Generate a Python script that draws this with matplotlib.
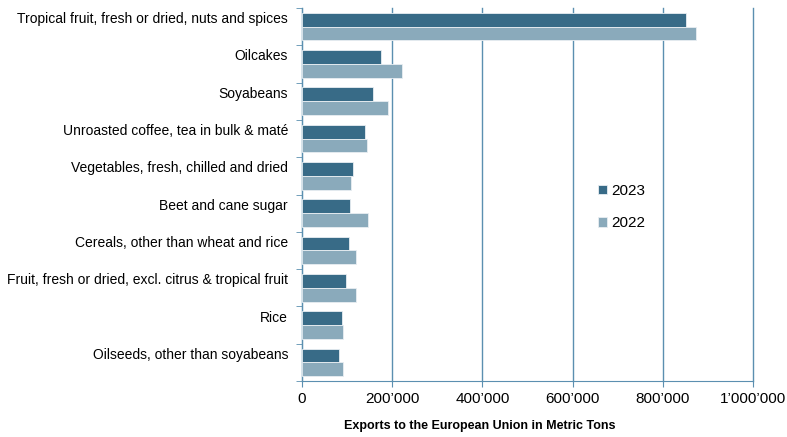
import numpy as np
import matplotlib.pyplot as plt
import matplotlib.transforms as mtransforms
from matplotlib.ticker import FuncFormatter

plt.rcParams['font.family'] = ['Liberation Sans', 'DejaVu Sans']

categories = ['Tropical fruit, fresh or dried, nuts and spices',
              'Oilcakes',
              'Soyabeans',
              'Unroasted coffee, tea in bulk & maté',
              'Vegetables, fresh, chilled and dried',
              'Beet and cane sugar',
              'Cereals, other than wheat and rice',
              'Fruit, fresh or dried, excl. citrus & tropical fruit',
              'Rice',
              'Oilseeds, other than soyabeans']
values_2023 = [851000, 175000, 158000, 139000, 112000, 106000, 104000, 98000, 89000, 83000]
values_2022 = [874000, 222000, 191000, 144000, 109000, 146000, 120000, 119000, 92000, 92000]

c2023 = '#386b87'
c2022 = '#8aaabb'
grid_c = '#5b8fb0'

fig = plt.figure(figsize=(7.87, 4.37), dpi=100)
ax = fig.add_axes([302/787, 1 - 381/437, 451/787, 373/437])

y = np.arange(len(categories))
h = 0.37
ax.barh(y - h/2, values_2023, height=h, color=c2023, edgecolor='#e8eef2', linewidth=0.6, label='2023', zorder=3)
ax.barh(y + h/2, values_2022, height=h, color=c2022, edgecolor='#e8eef2', linewidth=0.6, label='2022', zorder=3)

ax.set_ylim(len(categories) - 0.5, -0.5)
ax.set_xlim(0, 1000000)
ax.set_yticks(y)
ax.set_yticklabels(categories, fontsize=10)
ax.set_yticks(np.arange(-0.5, len(categories)), minor=True)
ax.tick_params(axis='y', which='major', length=0, pad=10)
ax.tick_params(axis='y', which='minor', length=4, color=grid_c, direction='out')

# labels sit a bit above the band centre, as in the original
shift = mtransforms.ScaledTranslation(0, 9/100, fig.dpi_scale_trans)
for lab in ax.get_yticklabels():
    lab.set_transform(lab.get_transform() + shift)

ax.set_xticks(np.arange(0, 1000001, 200000))
ax.xaxis.set_major_formatter(FuncFormatter(lambda v, p: '0' if v == 0 else "{:,.0f}".format(v).replace(',', '\u2019')))
ax.tick_params(axis='x', length=4, color=grid_c, labelsize=11, pad=4)
ax.grid(axis='x', color=grid_c, linewidth=1, zorder=0)
for gl in ax.get_xgridlines():
    gl.set_clip_on(False)

for s in ['top', 'right']:
    ax.spines[s].set_visible(False)
ax.spines['left'].set_color(grid_c)
ax.spines['bottom'].set_color(grid_c)

ax.set_xlabel('Exports to the European Union in Metric Tons', fontsize=9, fontweight='bold')
ax.xaxis.set_label_coords(0.395, -0.105)

ax.legend(loc='upper left', bbox_to_anchor=(0.625, 0.565), frameon=False, fontsize=11,
          handlelength=0.6, handleheight=0.6, handletextpad=0.3, labelspacing=1.2)

fig.savefig('out.png', dpi=100)
